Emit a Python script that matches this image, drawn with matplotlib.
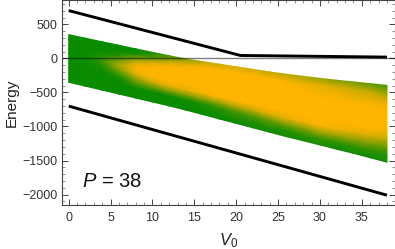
import numpy as np
import matplotlib
matplotlib.use("Agg")
import matplotlib.pyplot as plt
from matplotlib.colors import LinearSegmentedColormap

# Outer energy bounds
v_upper = [0, 20.5, 38]
e_upper = [704, 44, 20]
v_lower = [0, 38]
e_lower = [-700, -2010]

# Band edges
v_cols = [0, 2, 4, 6, 8, 10, 12, 14, 16, 18, 20, 22, 24, 26, 28, 30, 32, 34, 36, 38]
band_top = [350, 298, 246, 194, 142, 90, 40, -8, -46, -84, -122, -160, -198, -232, -262, -292, -320, -345, -370, -396]
band_bot = [-350, -408, -466, -524, -582, -640, -698, -760, -825, -890, -955, -1020, -1085, -1150, -1210, -1272, -1335, -1395, -1460, -1525]

# Orange share across the band, bottom row first, one row per band fraction
band_frac = [0, 0.1, 0.2, 0.3, 0.4, 0.5, 0.6, 0.7, 0.8, 0.9, 1]
mix = [
    [0, 0, 0, 0, 0, 0, 0, 0, 0, 0, 0, .03, 0, .05, 0, .08, 0, .05, 0, .05],
    [0, 0, 0, 0, 0, 0, 0, 0, .02, .05, .08, .08, .15, .1, .18, .2, .15, .15, .15, .12],
    [0, 0, 0, 0, 0, 0, 0, .03, .08, .15, .25, .3, .4, .5, .55, .65, .6, .55, .5, .4],
    [0, 0, 0, 0, .3, .4, .5, .5, .55, .6, .7, .75, .85, .9, .95, 1, .95, .9, .85, .75],
    [0, 0, 0, .2, .6, .8, .9, .9, .95, 1, 1, 1, 1, 1, 1, 1, 1, 1, 1, .95],
    [0, 0, .1, .5, .9, 1, 1, 1, 1, 1, 1, 1, 1, 1, 1, 1, 1, 1, 1, 1],
    [0, 0, .2, .7, 1, 1, 1, 1, 1, 1, 1, 1, 1, 1, 1, 1, 1, 1, 1, 1],
    [0, 0, .1, .4, .9, 1, 1, 1, 1, 1, 1, 1, 1, 1, 1, 1, 1, 1, 1, 1],
    [0, 0, 0, .1, .5, .85, 1, 1, 1, 1, 1, 1, 1, 1, 1, .95, .95, .9, .9, .85],
    [0, 0, 0, 0, .05, .3, .7, .9, 1, 1, 1, 1, 1, .95, .9, .9, .85, .8, .75, .6],
    [0, 0, 0, 0, 0, .05, .2, .5, .7, .8, .85, .8, .75, .7, .65, .6, .5, .45, .35, .25],
]

x_ticks = [0, 5, 10, 15, 20, 25, 30, 35]
y_ticks = [500, 0, -500, -1000, -1500, -2000]

plt.rcParams["font.family"] = ["Liberation Sans", "DejaVu Sans"]
plt.rcParams["mathtext.fontset"] = "custom"
plt.rcParams["mathtext.it"] = "Liberation Sans:italic"
plt.rcParams["mathtext.rm"] = "Liberation Sans"

green_orange = LinearSegmentedColormap.from_list("go", ["#0a8c00", "#80a000", "#ffb400"])

fig = plt.figure(figsize=(3.95, 2.49), dpi=100)
ax = fig.add_axes([62 / 395, 1 - 205 / 249, 332.5 / 395, 204.5 / 249])

# Heat band
cols = np.array(v_cols, dtype=float)
fracs = np.array(band_frac)
top = np.array(band_top, dtype=float)
bot = np.array(band_bot, dtype=float)
X = np.tile(cols, (len(fracs), 1))
Y = np.outer(fracs, top - bot) + bot
ax.pcolormesh(X, Y, np.array(mix), cmap=green_orange, vmin=0, vmax=1, shading="gouraud", rasterized=True)

# Bounds
ax.plot(v_upper, e_upper, c="black", lw=2.1, solid_capstyle="butt")
ax.plot(v_lower, e_lower, c="black", lw=2.1, solid_capstyle="butt")
ax.axhline(0, c="black", alpha=0.5, lw=1.0)

ax.set_xlim(-0.8, 38.9)
ax.set_ylim(-2154, 852)
ax.set_xticks(x_ticks)
ax.set_yticks(y_ticks)
ax.set_xticks(np.arange(0, 39, 1), minor=True)
ax.set_yticks(np.arange(-2100, 851, 100), minor=True)
ax.tick_params(which="major", direction="in", length=4, width=0.7, color="#444444", labelsize=9, labelcolor="#333333", top=True, right=True)
ax.tick_params(axis="x", which="major", pad=5)
ax.tick_params(axis="y", which="major", pad=3)
ax.tick_params(which="minor", direction="in", length=2, width=0.5, color="#666666", top=True, right=True)
for spine in ax.spines.values():
    spine.set_linewidth(0.8)
    spine.set_color("#444444")

ax.set_xlabel("$V_0$", fontsize=12, color="#222222", labelpad=5)
ax.set_ylabel("Energy", fontsize=11, color="#222222", labelpad=3)
ax.text(1.6, -1891, "$P$ = 38", fontsize=14.5, color="#111111", va="baseline")

plt.savefig("out.png", dpi=100)
plt.clf()
